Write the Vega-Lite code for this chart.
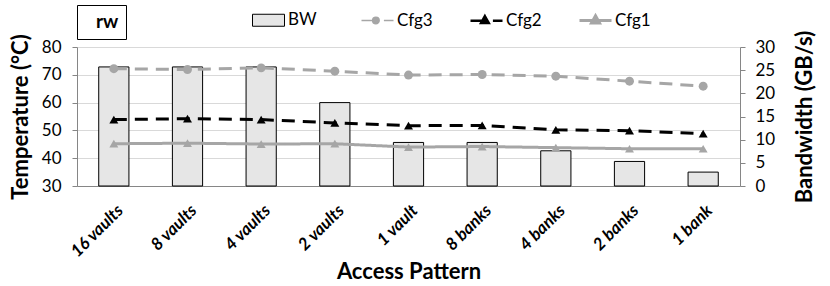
{
  "$schema": "https://vega.github.io/schema/vega-lite/v6.json",
  "width": 663,
  "height": 139,
  "autosize": {"type": "none"},
  "padding": {"left": 77, "top": 47, "right": 90, "bottom": 100},
  "config": {
    "font": "Lato",
    "view": {"stroke": null},
    "axis": {
      "labelFont": "Lato",
      "titleFont": "Lato",
      "labelColor": "#000000",
      "titleColor": "#000000",
      "labelFontSize": 17,
      "titleFontSize": 22,
      "titleFontWeight": "bold",
      "domainColor": "#868686",
      "tickColor": "#868686",
      "gridColor": "#d9d9d9"
    }
  },
  "datasets": {
    "bw": [
      {"pattern": "16 vaults", "bw": 25.7},
      {"pattern": "8 vaults", "bw": 25.7},
      {"pattern": "4 vaults", "bw": 25.7},
      {"pattern": "2 vaults", "bw": 18.0},
      {"pattern": "1 vault", "bw": 9.4},
      {"pattern": "8 banks", "bw": 9.4},
      {"pattern": "4 banks", "bw": 7.6},
      {"pattern": "2 banks", "bw": 5.3},
      {"pattern": "1 bank", "bw": 3.0}
    ],
    "temp": [
      {"pattern": "16 vaults", "series": "Cfg3", "temp": 72.2},
      {"pattern": "8 vaults", "series": "Cfg3", "temp": 71.9},
      {"pattern": "4 vaults", "series": "Cfg3", "temp": 72.5},
      {"pattern": "2 vaults", "series": "Cfg3", "temp": 71.3},
      {"pattern": "1 vault", "series": "Cfg3", "temp": 69.9},
      {"pattern": "8 banks", "series": "Cfg3", "temp": 70.1},
      {"pattern": "4 banks", "series": "Cfg3", "temp": 69.5},
      {"pattern": "2 banks", "series": "Cfg3", "temp": 67.7},
      {"pattern": "1 bank", "series": "Cfg3", "temp": 65.9},
      {"pattern": "16 vaults", "series": "Cfg2", "temp": 53.9},
      {"pattern": "8 vaults", "series": "Cfg2", "temp": 54.2},
      {"pattern": "4 vaults", "series": "Cfg2", "temp": 53.9},
      {"pattern": "2 vaults", "series": "Cfg2", "temp": 52.7},
      {"pattern": "1 vault", "series": "Cfg2", "temp": 51.7},
      {"pattern": "8 banks", "series": "Cfg2", "temp": 51.8},
      {"pattern": "4 banks", "series": "Cfg2", "temp": 50.2},
      {"pattern": "2 banks", "series": "Cfg2", "temp": 49.9},
      {"pattern": "1 bank", "series": "Cfg2", "temp": 48.8},
      {"pattern": "16 vaults", "series": "Cfg1", "temp": 45.2},
      {"pattern": "8 vaults", "series": "Cfg1", "temp": 45.4},
      {"pattern": "4 vaults", "series": "Cfg1", "temp": 45.1},
      {"pattern": "2 vaults", "series": "Cfg1", "temp": 45.2},
      {"pattern": "1 vault", "series": "Cfg1", "temp": 44.0},
      {"pattern": "8 banks", "series": "Cfg1", "temp": 44.2},
      {"pattern": "4 banks", "series": "Cfg1", "temp": 43.8},
      {"pattern": "2 banks", "series": "Cfg1", "temp": 43.4},
      {"pattern": "1 bank", "series": "Cfg1", "temp": 43.4}
    ]
  },
  "encoding": {
    "x": {
      "field": "pattern",
      "type": "nominal",
      "sort": ["16 vaults", "8 vaults", "4 vaults", "2 vaults", "1 vault", "8 banks", "4 banks", "2 banks", "1 bank"],
      "scale": {"paddingInner": 0.59, "paddingOuter": 0.295},
      "axis": {
        "title": "Access Pattern",
        "labelAngle": -45,
        "labelFontSize": 17,
        "labelFontWeight": "bold",
        "labelFontStyle": "italic",
        "ticks": false,
        "labelPadding": 16,
        "labelOffset": 1,
        "titlePadding": 2
      }
    }
  },
  "layer": [
    {
      "data": {"name": "bw"},
      "mark": {"type": "bar", "fill": "#e6e6e6", "stroke": "#000000", "strokeWidth": 1},
      "encoding": {
        "y": {
          "field": "bw",
          "type": "quantitative",
          "scale": {"domain": [0, 30], "nice": false},
          "axis": {
            "orient": "right",
            "title": "Bandwidth (GB/s)",
            "values": [0, 5, 10, 15, 20, 25, 30],
            "grid": false,
            "tickSize": 5,
            "labelPadding": 10,
            "titlePadding": 20,
            "titleAngle": -90,
            "titleBaseline": "top"
          }
        },
        "opacity": {
          "datum": "rw",
          "type": "ordinal",
          "scale": {"range": [1, 1]},
          "legend": {
            "title": null,
            "orient": "none",
            "legendX": 0,
            "legendY": -42,
            "padding": 7,
            "strokeColor": "#000000",
            "symbolType": "M0,0",
            "symbolSize": 100,
            "symbolStrokeWidth": 0,
            "labelOffset": -7,
            "labelFont": "Lato",
            "labelFontSize": 19,
            "labelFontWeight": "bold",
            "labelColor": "#000000"
          }
        }
      }
    },
    {
      "data": {"name": "temp"},
      "encoding": {
        "y": {
          "field": "temp",
          "type": "quantitative",
          "scale": {"domain": [30, 80], "nice": false},
          "axis": {
            "orient": "left",
            "title": "Temperature (°C)",
            "values": [30, 40, 50, 60, 70, 80],
            "grid": true,
            "tickSize": 5,
            "labelPadding": 11,
            "titlePadding": 9
          }
        }
      },
      "layer": [
        {
          "mark": {"type": "line", "strokeWidth": 3},
          "encoding": {
            "stroke": {
              "field": "series",
              "type": "nominal",
              "scale": {"domain": ["Cfg3", "Cfg2", "Cfg1"], "range": ["#a6a6a6", "#000000", "#a6a6a6"]},
              "legend": null
            },
            "strokeDash": {
              "field": "series",
              "type": "nominal",
              "scale": {"domain": ["Cfg3", "Cfg2", "Cfg1"], "range": [[13, 8], [13, 8], [1, 0]]},
              "legend": null
            }
          }
        },
        {
          "mark": {"type": "point", "filled": true, "opacity": 1, "size": 80},
          "encoding": {
            "fill": {
              "field": "series",
              "type": "nominal",
              "scale": {"domain": ["Cfg3", "Cfg2", "Cfg1"], "range": ["#a6a6a6", "#000000", "#a6a6a6"]},
              "legend": null
            },
            "shape": {
              "field": "series",
              "type": "nominal",
              "scale": {"domain": ["Cfg3", "Cfg2", "Cfg1"], "range": ["circle", "triangle-up", "triangle-up"]},
              "legend": null
            }
          }
        },
        {
          "mark": {"type": "point", "filled": true, "opacity": 0, "size": 1024},
          "encoding": {
            "shape": {
              "field": "series",
              "type": "nominal",
              "scale": {"domain": ["BW", "Cfg3", "Cfg2", "Cfg1"], "range": ["M-1,-0.375H1V0.375H-1Z", "M-1,0H-0.3M0.4,0H1M-0.3,0A0.2,0.2,0,1,0,0.1,0A0.2,0.2,0,1,0,-0.3,0Z", "M-1,0H-0.3M0.4,0H1M-0.1,-0.3L0.15,0.15L-0.35,0.15Z", "M-1,0H1M0,-0.3L0.25,0.15L-0.25,0.15Z"]},
              "legend": {"title": null, "orient": "none", "legendX": 174, "legendY": -44, "direction": "horizontal", "columns": 4, "gridAlign": "all", "columnPadding": 31, "padding": 0, "labelOffset": 2, "labelFont": "Lato", "labelFontSize": 17, "labelColor": "#000000", "symbolSize": 1024, "symbolOpacity": 1}
            },
            "fill": {
              "field": "series",
              "type": "nominal",
              "scale": {"domain": ["BW", "Cfg3", "Cfg2", "Cfg1"], "range": ["#e6e6e6", "#a6a6a6", "#000000", "#a6a6a6"]},
              "legend": {"title": null, "orient": "none", "legendX": 174, "legendY": -44, "direction": "horizontal", "columns": 4, "gridAlign": "all", "columnPadding": 31, "padding": 0, "labelOffset": 2, "labelFont": "Lato", "labelFontSize": 17, "labelColor": "#000000", "symbolSize": 1024, "symbolOpacity": 1}
            },
            "stroke": {
              "field": "series",
              "type": "nominal",
              "scale": {"domain": ["BW", "Cfg3", "Cfg2", "Cfg1"], "range": ["#000000", "#a6a6a6", "#000000", "#a6a6a6"]},
              "legend": {"title": null, "orient": "none", "legendX": 174, "legendY": -44, "direction": "horizontal", "columns": 4, "gridAlign": "all", "columnPadding": 31, "padding": 0, "labelOffset": 2, "labelFont": "Lato", "labelFontSize": 17, "labelColor": "#000000", "symbolSize": 1024, "symbolOpacity": 1}
            },
            "strokeWidth": {
              "field": "series",
              "type": "nominal",
              "scale": {"domain": ["BW", "Cfg3", "Cfg2", "Cfg1"], "range": [1, 3, 3, 3]},
              "legend": {"title": null, "orient": "none", "legendX": 174, "legendY": -44, "direction": "horizontal", "columns": 4, "gridAlign": "all", "columnPadding": 31, "padding": 0, "labelOffset": 2, "labelFont": "Lato", "labelFontSize": 17, "labelColor": "#000000", "symbolSize": 1024, "symbolOpacity": 1}
            }
          }
        }
      ],
      "resolve": {"scale": {"shape": "independent", "fill": "independent", "stroke": "independent", "strokeWidth": "independent"}}
    }
  ],
  "resolve": {"scale": {"y": "independent"}}
}
